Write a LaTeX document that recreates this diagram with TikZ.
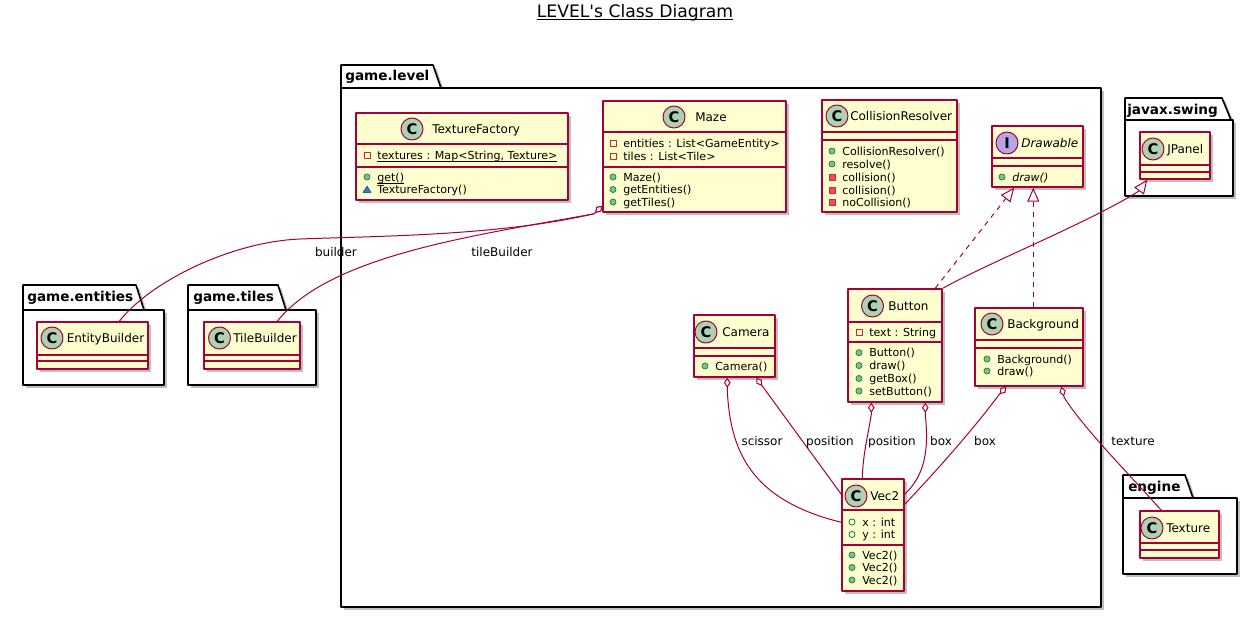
\documentclass[tikz,border=0pt]{standalone}
\usepackage{fontspec}
\setmainfont{DejaVu Sans}
\usetikzlibrary{arrows.meta,calc,fit,shadows}

\definecolor{umlred}{HTML}{A80036}
\definecolor{umlyellow}{HTML}{FEFECE}
\definecolor{cgreen}{HTML}{ADD1B2}
\definecolor{ipurple}{HTML}{B4A7E5}
\definecolor{pubfill}{HTML}{84BE84}
\definecolor{pubdraw}{HTML}{038048}
\definecolor{privfill}{HTML}{F24D5C}
\definecolor{privdraw}{HTML}{C82930}
\definecolor{pkgfill}{HTML}{4177AF}
\definecolor{pkgdraw}{HTML}{1963A0}

\newcommand{\stat}[1]{\underline{\smash{#1}}}

\tikzset{
  castshadow/.style={drop shadow={shadow xshift=2.4pt,shadow yshift=-2.4pt,fill=black,opacity=0.25}},
  pubm/.pic={\filldraw[fill=pubfill,draw=pubdraw,line width=0.5pt] (0,0) circle[radius=2.3pt];},
  pubf/.pic={\draw[pubdraw,line width=0.6pt] (0,0) circle[radius=2.3pt];},
  privf/.pic={\draw[privdraw,line width=0.6pt] (-3,-3) rectangle (3,3);},
  privm/.pic={\filldraw[fill=privfill,draw=privdraw,line width=0.5pt] (-3,-3) rectangle (3,3);},
  pkgm/.pic={\filldraw[fill=pkgfill,draw=pkgdraw,line width=0.5pt] (-4,3) -- (4,3) -- (0,-3.5) -- cycle;},
}

\begin{document}
\begin{tikzpicture}[x=0.75pt,y=-0.75pt,line join=bevel,
  cls/.style={draw=umlred,fill=umlyellow,line width=1.1pt,inner sep=0pt,castshadow},
  pkg/.style={draw=black,fill=white,line width=1.2pt,inner sep=0pt,castshadow},
  divline/.style={draw=umlred,line width=1pt},
  circC/.style={circle,draw=umlred,line width=0.75pt,fill=cgreen,minimum size=16.5pt,inner sep=0pt,font=\fontsize{11pt}{11pt}\selectfont\bfseries},
  circI/.style={circC,fill=ipurple},
  cname/.style={anchor=base west,inner sep=0pt,font=\fontsize{9pt}{10pt}\selectfont},
  mem/.style={anchor=base west,inner sep=0pt,font=\fontsize{8.3pt}{9pt}\selectfont},
  pname/.style={anchor=base west,inner sep=0pt,font=\fontsize{10.2pt}{11pt}\selectfont\bfseries},
  lbl/.style={anchor=base,inner sep=0pt,font=\fontsize{9pt}{10pt}\selectfont},
  ttl/.style={anchor=base,inner sep=0pt,font=\fontsize{12.9pt}{14pt}\selectfont},
  conn/.style={draw=umlred,line width=0.75pt},
  agg/.style={conn,{Diamond[length=7.5pt,width=5pt,fill=white]}-},
  ext/.style={conn,-{Triangle[length=10.5pt,width=9pt,fill=white]}},
  impl/.style={ext,dash pattern=on 3.75pt off 3.75pt},
]
\useasboundingbox (0,0) rectangle (1257,617);

% title
\node[ttl] (title) at (635,17.3) {LEVEL\textquotesingle s Class Diagram};
\draw[line width=0.8pt] ([yshift=-2pt]title.base west) -- ([yshift=-2pt]title.base east);

% packages
\draw[pkg] (341,88) -- (341,65) -- (433,65) -- (441,88) -- cycle;
\node[pkg,fit={(341,88) (1101,607)}] (plevel) {};
\node[pname] (plevel-n) at (345,81) {game.level};

\draw[pkg] (1125,120) -- (1125,98) -- (1222,98) -- (1231,120) -- cycle;
\node[pkg,fit={(1125,120) (1233,196)}] (pswing) {};
\node[pname] (pswing-n) at (1127,114) {javax.swing};

\draw[pkg] (23,310) -- (23,285) -- (136,285) -- (144,310) -- cycle;
\node[pkg,fit={(23,310) (164,385)}] (pent) {};
\node[pname] (pent-n) at (27,301) {game.entities};

\draw[pkg] (188,310) -- (188,285) -- (278,285) -- (286,310) -- cycle;
\node[pkg,fit={(188,310) (316,385)}] (ptiles) {};
\node[pname] (ptiles-n) at (193,301) {game.tiles};

\draw[pkg] (1123,498) -- (1123,475) -- (1185,475) -- (1193,498) -- cycle;
\node[pkg,fit={(1123,498) (1237,574)}] (pengine) {};
\node[pname] (pengine-n) at (1128,491) {engine};

% TextureFactory
\node[cls,fit={(356,113) (568,200)}] (tf) {};
\draw[divline] (356,144) -- (568,144);
\draw[divline] (356,167) -- (568,167);
\node[circC] (tf-c) at (412,129) {C};
\node[cname] (tf-n) at (432,133.4) {TextureFactory};
\pic at (367,155.5) {privf};
\node[mem] (tf-a1) at (377,159.5) {\stat{textures : Map<String, Texture>}};
\pic at (367,177) {pubm};
\node[mem] (tf-m1) at (377,181) {\stat{get()}};
\pic at (367,189.5) {pkgm};
\node[mem] (tf-m2) at (377,193.5) {TextureFactory()};

% Maze
\node[cls,fit={(603,101) (786,212)}] (maze) {};
\draw[divline] (603,132) -- (786,132);
\draw[divline] (603,167) -- (786,167);
\node[circC] (maze-c) at (674,117) {C};
\node[cname] (maze-n) at (695,121.4) {Maze};
\pic at (613,143) {privf};
\node[mem] (maze-a1) at (623,147) {entities : List<GameEntity>};
\pic at (613,156) {privf};
\node[mem] (maze-a2) at (623,160) {tiles : List<Tile>};
\pic at (613,177) {pubm};
\node[mem] (maze-m1) at (623,181) {Maze()};
\pic at (613,189.5) {pubm};
\node[mem] (maze-m2) at (623,193.5) {getEntities()};
\pic at (613,202) {pubm};
\node[mem] (maze-m3) at (623,206) {getTiles()};

% CollisionResolver
\node[cls,fit={(822,100) (957,212)}] (cr) {};
\draw[divline] (822,132) -- (957,132);
\draw[divline] (822,140) -- (957,140);
\node[circC] (cr-c) at (837,116) {C};
\node[cname] (cr-n) at (850,120.4) {CollisionResolver};
\pic at (832,151) {pubm};
\node[mem] (cr-m1) at (842,155) {CollisionResolver()};
\pic at (832,164) {pubm};
\node[mem] (cr-m2) at (842,168) {resolve()};
\pic at (832,177) {privm};
\node[mem] (cr-m3) at (842,181) {collision()};
\pic at (832,190) {privm};
\node[mem] (cr-m4) at (842,194) {collision()};
\pic at (832,202.5) {privm};
\node[mem] (cr-m5) at (842,206.5) {noCollision()};

% Drawable
\node[cls,fit={(992,126) (1083,187)}] (drw) {};
\draw[divline] (992,158) -- (1083,158);
\draw[divline] (992,166) -- (1083,166);
\node[circI] (drw-c) at (1007,143) {I};
\node[cname] (drw-n) at (1021,147.4) {\itshape Drawable};
\pic at (1002,177) {pubm};
\node[mem] (drw-m1) at (1012,181) {\itshape draw()};

% JPanel
\node[cls,fit={(1140,132) (1210,179)}] (jp) {};
\draw[divline] (1140,165) -- (1210,165);
\draw[divline] (1140,172) -- (1210,172);
\node[circC] (jp-c) at (1153,149) {C};
\node[cname] (jp-n) at (1167,153.4) {JPanel};

% Button
\node[cls,fit={(848,289) (942,402)}] (btn) {};
\draw[divline] (848,322) -- (942,322);
\draw[divline] (848,342) -- (942,342);
\node[circC] (btn-c) at (872.5,306) {C};
\node[cname] (btn-n) at (888,310.4) {Button};
\pic at (859,332) {privf};
\node[mem] (btn-a1) at (869,336) {text : String};
\pic at (859,352.7) {pubm};
\node[mem] (btn-m1) at (869,356.7) {Button()};
\pic at (859,365.5) {pubm};
\node[mem] (btn-m2) at (869,369.5) {draw()};
\pic at (859,378.5) {pubm};
\node[mem] (btn-m3) at (869,382.5) {getBox()};
\pic at (859,391) {pubm};
\node[mem] (btn-m4) at (869,395) {setButton()};

% Camera
\node[cls,fit={(694,315) (775,377)}] (cam) {};
\draw[divline] (694,348) -- (775,348);
\draw[divline] (694,356) -- (775,356);
\node[circC] (cam-c) at (706,332) {C};
\node[cname] (cam-n) at (722,336.4) {Camera};
\pic at (705,366) {pubm};
\node[mem] (cam-m1) at (715,370) {Camera()};

% Background
\node[cls,fit={(975,308) (1083,386)}] (bgd) {};
\draw[divline] (975,340) -- (1083,340);
\draw[divline] (975,348) -- (1083,348);
\node[circC] (bgd-c) at (992,324) {C};
\node[cname] (bgd-n) at (1007,328.4) {Background};
\pic at (987,359) {pubm};
\node[mem] (bgd-m1) at (997,363) {Background()};
\pic at (987,371) {pubm};
\node[mem] (bgd-m2) at (997,375) {draw()};

% Vec2
\node[cls,fit={(842,479) (904,591)}] (vec) {};
\draw[divline] (842,510) -- (904,510);
\draw[divline] (842,545) -- (904,545);
\node[circC] (vec-c) at (856,496) {C};
\node[cname] (vec-n) at (870,500.4) {Vec2};
\pic at (852,522) {pubf};
\node[mem] (vec-a1) at (862,526) {x : int};
\pic at (852,534.5) {pubf};
\node[mem] (vec-a2) at (862,538.5) {y : int};
\pic at (852,555) {pubm};
\node[mem] (vec-m1) at (862,559) {Vec2()};
\pic at (852,567.5) {pubm};
\node[mem] (vec-m2) at (862,571.5) {Vec2()};
\pic at (852,580) {pubm};
\node[mem] (vec-m3) at (862,584) {Vec2()};

% EntityBuilder, TileBuilder, Texture
\node[cls,fit={(37,322) (148,369)}] (eb) {};
\draw[divline] (37,355) -- (148,355);
\draw[divline] (37,361) -- (148,361);
\node[circC] (eb-c) at (52,338) {C};
\node[cname] (eb-n) at (66.5,342.4) {EntityBuilder};

\node[cls,fit={(204,322) (300,369)}] (tb) {};
\draw[divline] (204,355) -- (300,355);
\draw[divline] (204,361) -- (300,361);
\node[circC] (tb-c) at (219.5,338) {C};
\node[cname] (tb-n) at (233,342.4) {TileBuilder};

\node[cls,fit={(1140,511) (1219,558)}] (tx) {};
\draw[divline] (1140,543) -- (1219,543);
\draw[divline] (1140,550) -- (1219,550);
\node[circC] (tx-c) at (1152,528) {C};
\node[cname] (tx-n) at (1166,532.4) {Texture};

% connectors
\draw[agg] ($(maze.south west)+(0,-7)$) -- ++(-8,8) .. controls +(-95,22) and (380,236) .. (300,239) .. controls (230,242) and (150,282) .. ($(eb.north west)+(83,0)$);
\draw[agg] ($(maze.south west)+(0,-7)$) -- ++(-8,8) .. controls +(-120,22) and (330,255) .. ($(tb.north west)+(74,0)$);

\draw[impl] ($(btn.north west)+(88,0)$) -- ($(drw.south west)+(23,0)$);
\draw[impl] ($(bgd.north west)+(59,0)$) -- ($(drw.south west)+(42,0)$);
\draw[ext] (btn.north east) .. controls (990,262) and (1090,222) .. (1139,191) -- ($(jp.south west)+(8,0)$);

\draw[agg] ($(cam.south west)+(34,0)$) -- ++(0,12) .. controls (730,450) and (750,500) .. ($(vec.north west)+(0,44)$);
\draw[agg] ($(cam.south west)+(63,0)$) -- ($(vec.north west)+(0,16)$);
\draw[agg] ($(btn.south west)+(24,0)$) -- ++(0,12) .. controls (867,440) and (863,455) .. ($(vec.north west)+(21,0)$);
\draw[agg] ($(btn.south west)+(78,0)$) -- ++(0,12) .. controls (929,450) and (925,475) .. ($(vec.north east)+(0,16)$);
\draw[agg] ($(bgd.south west)+(32,0)$) -- ++(-8,9) .. controls (974,428) and (941,466) .. ($(vec.north east)+(0,26)$);
\draw[agg] ($(bgd.south west)+(87,0)$) -- ++(3,11) .. controls (1085,430) and (1130,475) .. ($(tx.north west)+(22,0)$);

% labels
\node[lbl] (l-builder) at (336,256.4) {builder};
\node[lbl] (l-tile) at (502,256.4) {tileBuilder};
\node[lbl] (l-scissor) at (762,445.4) {scissor};
\node[lbl] (l-campos) at (830,445.4) {position};
\node[lbl] (l-btnpos) at (892,445.4) {position};
\node[lbl] (l-btnbox) at (941,445.4) {box};
\node[lbl] (l-bgdbox) at (985,445.4) {box};
\node[lbl] (l-texture) at (1133,445.4) {texture};

\end{tikzpicture}
\end{document}
